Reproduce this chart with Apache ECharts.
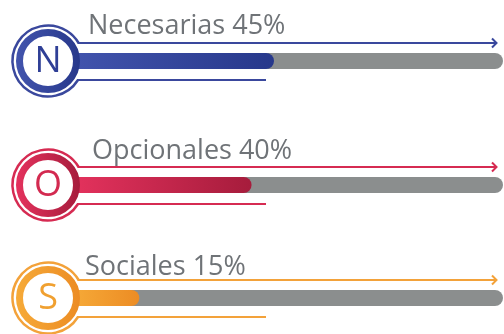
<!DOCTYPE html>
<html>
<head>
<meta charset="utf-8">
<script src="https://cdn.jsdelivr.net/npm/echarts@6/dist/echarts.min.js"></script>
<style>
  html, body { margin: 0; padding: 0; background: #ffffff; }
  #chart { width: 504px; height: 334px; }
</style>
</head>
<body>
<div id="chart"></div>
<script>
// Data
const categories = ['Necesarias', 'Opcionales', 'Sociales'];
const values = [45, 40, 15];

// Layout
const rowY = [61, 185, 298];      // vertical centre of each row
const labelX = [88, 92, 85];      // left edge of each heading
const labelY = [26, 151, 267];    // vertical middle of each heading
const CX = 48;                    // badge centre x
const LEFT = 72;                  // where the value scale starts
const RIGHT = 1;                  // gap to the right edge
const SCALE_MAX = 96;
const BAR_H = 16;
const RING_R = 35.5;
const FACE_R = 28.5;
const LINE_UP = 18, LINE_DOWN = 19;
const ARROW_X = 496;
const UNDERLINE_END = 266;

const palette = [
  { line: '#3a489d', light: '#4254ad', dark: '#27388b', letter: '#2f3f96' },
  { line: '#d62b52', light: '#e4325d', dark: '#a61c3c', letter: '#d32a50' },
  { line: '#f3a23a', light: '#f6aa38', dark: '#ec8c24', letter: '#f0a030' }
];
const TRACK = '#8b8e8e';
const TEXT = '#6f7377';

function hGrad(c) {
  return new echarts.graphic.LinearGradient(0, 0, 1, 0, [
    { offset: 0, color: c.light },
    { offset: 1, color: c.dark }
  ]);
}

const grid = [], xAxis = [], yAxis = [], series = [], graphic = [];

categories.forEach((name, i) => {
  const y = rowY[i];
  const c = palette[i];

  grid.push({ left: LEFT, right: RIGHT, top: y - BAR_H / 2, height: BAR_H });
  xAxis.push({ type: 'value', gridIndex: i, min: 0, max: SCALE_MAX, show: false });
  yAxis.push({ type: 'category', gridIndex: i, data: [name], show: false });
  series.push({
    type: 'bar',
    name: name,
    xAxisIndex: i,
    yAxisIndex: i,
    data: [values[i]],
    barWidth: BAR_H,
    showBackground: true,
    backgroundStyle: { color: TRACK, borderRadius: [0, BAR_H / 2, BAR_H / 2, 0] },
    itemStyle: { color: hGrad(c), borderRadius: [0, BAR_H / 2, BAR_H / 2, 0] },
    silent: true
  });

  const aStart = Math.asin(LINE_DOWN / RING_R);
  const aEnd = 2 * Math.PI - Math.asin(LINE_UP / RING_R);
  const xUp = CX + Math.sqrt(RING_R * RING_R - LINE_UP * LINE_UP);
  const xDown = CX + Math.sqrt(RING_R * RING_R - LINE_DOWN * LINE_DOWN);

  // thin outer ring that opens into the two guide lines
  graphic.push({
    type: 'arc', z: 100,
    shape: { cx: CX, cy: y, r: RING_R, startAngle: aStart, endAngle: aEnd, clockwise: true },
    style: { stroke: c.line, lineWidth: 2.5, fill: null }
  });
  // guide line with arrow head
  graphic.push({
    type: 'line', z: 100,
    shape: { x1: xUp - 1, y1: y - LINE_UP, x2: ARROW_X, y2: y - LINE_UP },
    style: { stroke: c.line, lineWidth: 2 }
  });
  graphic.push({
    type: 'polyline', z: 100,
    shape: { points: [[ARROW_X - 4, y - LINE_UP - 4.5], [ARROW_X + 0.5, y - LINE_UP], [ARROW_X - 4, y - LINE_UP + 4.5]] },
    style: { stroke: c.line, lineWidth: 2, fill: null }
  });
  // short underline
  graphic.push({
    type: 'line', z: 100,
    shape: { x1: xDown - 1, y1: y + LINE_DOWN, x2: UNDERLINE_END, y2: y + LINE_DOWN },
    style: { stroke: c.line, lineWidth: 2 }
  });
  // thick badge ring with white face
  graphic.push({
    type: 'circle', z: 101,
    shape: { cx: CX, cy: y, r: FACE_R },
    style: {
      fill: '#ffffff',
      stroke: new echarts.graphic.LinearGradient(0, 0, 1, 0, [
        { offset: 0, color: c.light }, { offset: 1, color: c.dark }
      ]),
      lineWidth: 7
    }
  });
  // initial letter
  graphic.push({
    type: 'text', z: 102,
    x: CX, y: y + 1,
    style: {
      text: name.charAt(0),
      fill: c.letter,
      font: '36px "Open Sans", sans-serif',
      align: 'center',
      verticalAlign: 'middle'
    }
  });
  // heading with the value
  graphic.push({
    type: 'text', z: 102,
    x: labelX[i], y: labelY[i],
    style: {
      text: name + ' ' + values[i] + '%',
      fill: TEXT,
      font: '27px "Open Sans", sans-serif',
      align: 'left',
      verticalAlign: 'middle'
    }
  });
});

const chart = echarts.init(document.getElementById('chart'), null, { renderer: 'canvas' });
chart.setOption({
  animation: false,
  backgroundColor: '#ffffff',
  grid: grid,
  xAxis: xAxis,
  yAxis: yAxis,
  series: series,
  graphic: graphic
});
</script>
</body>
</html>
